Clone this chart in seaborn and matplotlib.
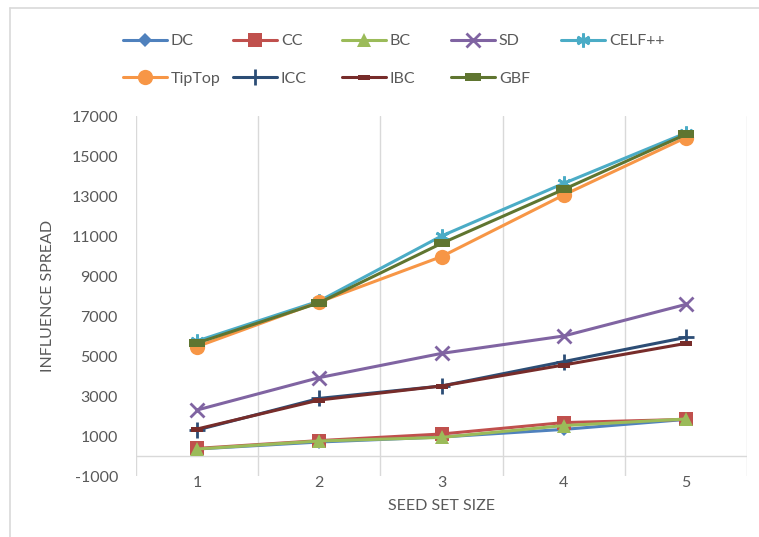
import numpy as np
import pandas as pd
import seaborn as sns
import matplotlib.pyplot as plt
from matplotlib.lines import Line2D

# data
seed_sizes = [1, 2, 3, 4, 5]
dc = [350, 700, 950, 1330, 1830]
cc = [380, 770, 1100, 1670, 1830]
bc = [350, 750, 930, 1520, 1850]
sd = [2300, 3920, 5130, 6000, 7580]
celf = [5750, 7750, 11000, 13630, 16150]
tiptop = [5470, 7700, 9970, 13050, 15920]
icc = [1300, 2880, 3500, 4720, 5930]
ibc = [1350, 2800, 3500, 4550, 5630]
gbf = [5650, 7665, 10630, 13330, 16080]

names = ["DC", "CC", "BC", "SD", "CELF++", "TipTop", "ICC", "IBC", "GBF"]
series = [dc, cc, bc, sd, celf, tiptop, icc, ibc, gbf]
colors = ["#4F81BD", "#C0504D", "#9BBB59", "#8064A2", "#4BACC6",
          "#F79646", "#2C4D75", "#772C2A", "#5F7530"]

dash_small = [(-1, -0.45), (1, -0.45), (1, 0.45), (-1, 0.45)]
dash_big = [(-1, -0.5), (1, -0.5), (1, 0.5), (-1, 0.5)]
markers = ["D", "s", "^", "x", (6, 2, 0), "o", "+", dash_small, dash_big]
msizes = [7, 10, 10, 10, 10, 11, 11, 8, 12]
mews = [0, 0, 0, 2, 2, 0, 2, 0, 0]

sns.set_style("white")
plt.rcParams['font.family'] = ['Lato', 'DejaVu Sans']
txt = "#595959"
grid = "#D9D9D9"

fig = plt.figure(figsize=(7.59, 5.37), dpi=100)
ax = fig.add_axes([136 / 759, 1 - 476 / 537, 611 / 759, 360 / 537])

for name, vals, c, m, ms, mw in zip(names, series, colors, markers, msizes, mews):
    sns.lineplot(x=seed_sizes, y=vals, ax=ax, color=c, lw=2.2, marker=m,
                 markersize=ms, markeredgewidth=mw, markeredgecolor=c,
                 markerfacecolor=c, label=name)

handles, labels = ax.get_legend_handles_labels()
ax.get_legend().remove()

ax.set_xlim(0.5, 5.5)
ax.set_ylim(-1000, 17000)
ax.set_xticks(seed_sizes)
ax.set_xticks(np.arange(0.5, 6, 1), minor=True)
ax.set_yticks(np.arange(-1000, 17001, 2000))
ax.set_yticklabels([str(v) for v in range(-1000, 17001, 2000)])
ax.grid(False)
ax.grid(True, which="minor", axis="x", color=grid, lw=1)
ax.axhline(0, color=grid, lw=1, zorder=1)
for s in ax.spines.values():
    s.set_visible(False)
ax.tick_params(axis="both", which="both", length=0, labelcolor=txt, labelsize=11.5)
ax.tick_params(axis="y", pad=13)
ax.tick_params(axis="x", pad=0)

ax.set_xlabel("SEED SET SIZE", color=txt, fontsize=11.5)
ax.set_ylabel("INFLUENCE SPREAD", color=txt, fontsize=11.5)
ax.xaxis.set_label_coords(0.5, -0.082)
ax.yaxis.set_label_coords(-0.144, 0.5)
ax.xaxis.label.set_va("center")
ax.yaxis.label.set_va("center")

# legend laid out as equal-width columns, like the original
col_x = [123, 233, 342, 451, 561]
cols = [[0, 5], [1, 6], [2, 7], [3, 8], [4]]
for x, idx in zip(col_x, cols):
    fig.legend([handles[i] for i in idx], [labels[i] for i in idx],
               loc="upper left", bbox_to_anchor=(x / 759, 1 - 34 / 537),
               frameon=False, borderpad=0, borderaxespad=0,
               handlelength=2.75, handletextpad=0.25, labelspacing=1.45,
               fontsize=11.5, labelcolor=txt)

# chart area border (partly cut off in the original)
fig.add_artist(Line2D([10 / 759, 10 / 759], [0, 1 - 8 / 537],
                      transform=fig.transFigure, color=grid, lw=1.2))
fig.add_artist(Line2D([10 / 759, 1], [1 - 8 / 537, 1 - 8 / 537],
                      transform=fig.transFigure, color=grid, lw=1.2))

fig.savefig("out.png", dpi=100)
